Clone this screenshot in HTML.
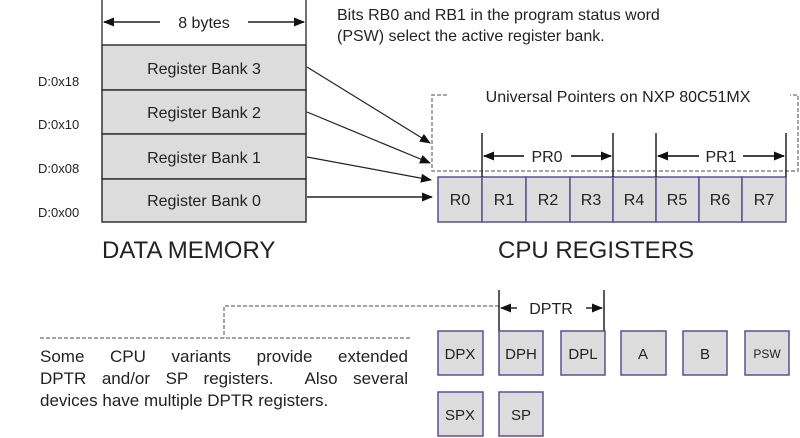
<!DOCTYPE html>
<html><head><style>body{margin:0;background:#fff;position:relative}svg{display:block}text{font-family:"Liberation Sans",sans-serif;fill:#222}
.p{position:absolute;left:40px;top:346px;width:368px;font:17px/22px "Liberation Sans",sans-serif;color:#222}
.p span{display:block;text-align:justify;text-align-last:justify}</style></head><body>
<svg width="800" height="438" viewBox="0 0 800 438" xmlns="http://www.w3.org/2000/svg">
<defs><marker id="a" markerWidth="11" markerHeight="9" refX="10" refY="4.5" orient="auto" markerUnits="userSpaceOnUse"><path d="M0,0L11,4.5L0,9z" fill="#111"/></marker></defs>
<text x="337" y="20" font-size="16">Bits RB0 and RB1 in the program status word</text>
<text x="337" y="41" font-size="16">(PSW) select the active register bank.</text>
<g stroke="#444" stroke-width="1.5"><line x1="102" y1="0" x2="102" y2="45"/><line x1="306" y1="0" x2="306" y2="45"/></g>
<g stroke="#222" stroke-width="1.5"><line x1="160" y1="22" x2="104" y2="22" marker-end="url(#a)"/><line x1="248" y1="22" x2="304" y2="22" marker-end="url(#a)"/></g>
<text x="204" y="28" font-size="16" text-anchor="middle">8 bytes</text>
<g fill="#dcdcdc" stroke="#333" stroke-width="1.5">
<rect x="102" y="45" width="204" height="45"/><rect x="102" y="90" width="204" height="44"/><rect x="102" y="134" width="204" height="45"/><rect x="102" y="179" width="204" height="43"/></g>
<g font-size="16" text-anchor="middle"><text x="204" y="74">Register Bank 3</text><text x="204" y="118">Register Bank 2</text><text x="204" y="163">Register Bank 1</text><text x="204" y="206">Register Bank 0</text></g>
<g font-size="13"><text x="38" y="86">D:0x18</text><text x="38" y="129">D:0x10</text><text x="38" y="173">D:0x08</text><text x="38" y="217">D:0x00</text></g>
<g stroke="#222" stroke-width="1.2"><line x1="307" y1="67" x2="430" y2="143" marker-end="url(#a)"/><line x1="307" y1="112" x2="430" y2="163" marker-end="url(#a)"/><line x1="307" y1="157" x2="431" y2="180" marker-end="url(#a)"/><line x1="307" y1="197" x2="432" y2="197" stroke-width="1.6" marker-end="url(#a)"/></g>
<text x="102" y="258" font-size="24">DATA MEMORY</text>
<text x="498" y="258" font-size="24">CPU REGISTERS</text>
<path d="M447,95H432V171H798V95H790" fill="none" stroke="#888" stroke-width="1.5" stroke-dasharray="4,2"/>
<text x="618" y="102" font-size="16" text-anchor="middle">Universal Pointers on NXP 80C51MX</text>
<g fill="#dcdcdc" stroke="#5a5096" stroke-width="1.5">
<rect x="438" y="177" width="44" height="45"/><rect x="482" y="177" width="44" height="45"/><rect x="526" y="177" width="44" height="45"/><rect x="570" y="177" width="43" height="45"/><rect x="613" y="177" width="43" height="45"/><rect x="656" y="177" width="43" height="45"/><rect x="699" y="177" width="43" height="45"/><rect x="742" y="177" width="44" height="45"/></g>
<g font-size="16" text-anchor="middle"><text x="460" y="205">R0</text><text x="504" y="205">R1</text><text x="548" y="205">R2</text><text x="591" y="205">R3</text><text x="634" y="205">R4</text><text x="677" y="205">R5</text><text x="720" y="205">R6</text><text x="764" y="205">R7</text></g>
<g stroke="#222" stroke-width="1.5"><line x1="482" y1="133" x2="482" y2="177"/><line x1="613" y1="133" x2="613" y2="177"/><line x1="656" y1="133" x2="656" y2="177"/><line x1="786" y1="133" x2="786" y2="177"/></g>
<g stroke="#444" stroke-width="2"><line x1="524" y1="156" x2="484" y2="156" marker-end="url(#a)"/><line x1="571" y1="156" x2="611" y2="156" marker-end="url(#a)"/><line x1="699" y1="156" x2="658" y2="156" marker-end="url(#a)"/><line x1="743" y1="156" x2="784" y2="156" marker-end="url(#a)"/></g>
<text x="547" y="162" font-size="16" text-anchor="middle">PR0</text><text x="721" y="162" font-size="16" text-anchor="middle">PR1</text>
<path d="M499,306H224V338M40,338H410" fill="none" stroke="#888" stroke-width="1.5" stroke-dasharray="4,2"/>
<g stroke="#222" stroke-width="1.5"><line x1="499" y1="290" x2="499" y2="331"/><line x1="604" y1="290" x2="604" y2="331"/><line x1="517" y1="308" x2="501" y2="308" marker-end="url(#a)"/><line x1="586" y1="308" x2="602" y2="308" marker-end="url(#a)"/></g>
<text x="551" y="314" font-size="16" text-anchor="middle">DPTR</text>
<g fill="#dcdcdc" stroke="#5a5096" stroke-width="1.5">
<rect x="438" y="331" width="45" height="44"/><rect x="499" y="331" width="44" height="44"/><rect x="561" y="331" width="44" height="44"/><rect x="621" y="331" width="45" height="44"/><rect x="683" y="331" width="44" height="44"/><rect x="745" y="331" width="44" height="44"/><rect x="438" y="392" width="45" height="44"/><rect x="499" y="392" width="44" height="44"/></g>
<g font-size="15" text-anchor="middle"><text x="460" y="359">DPX</text><text x="521" y="359">DPH</text><text x="583" y="359">DPL</text><text x="643" y="359">A</text><text x="705" y="359">B</text><text x="767" y="358" font-size="12">PSW</text><text x="460" y="420">SPX</text><text x="521" y="420">SP</text></g>
</svg>
<div class="p"><span>Some CPU variants provide extended</span><span>DPTR and/or SP registers. &nbsp;Also several</span>devices have multiple DPTR registers.</div>
</body></html>
